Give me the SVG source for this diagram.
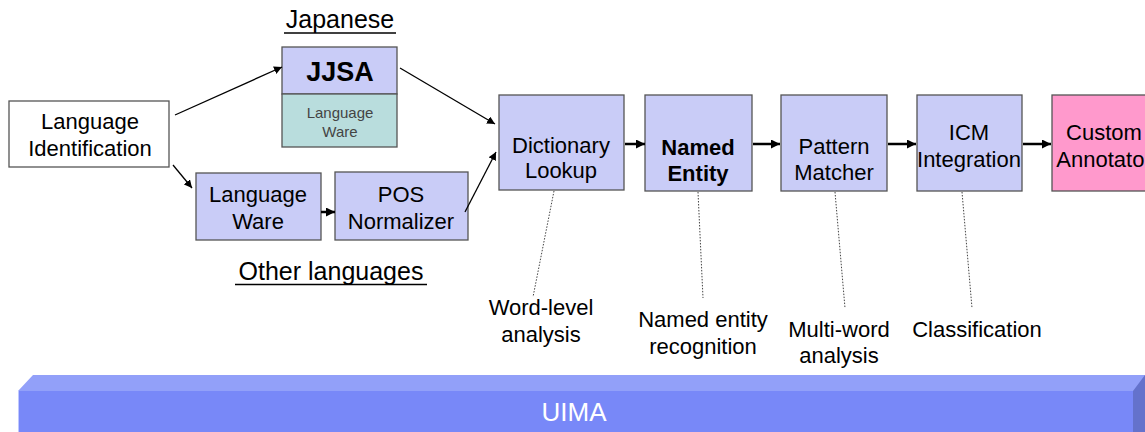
<svg xmlns="http://www.w3.org/2000/svg" width="1145" height="432" viewBox="0 0 1145 432">
<defs>
<style>
.box{fill:#C9CCF7;stroke:#555;stroke-width:1.3}
.t{font-family:"Liberation Sans",Arial,sans-serif;font-size:22px;fill:#000;text-anchor:middle}
.b{font-weight:bold}
.lbl{font-family:"Liberation Sans",Arial,sans-serif;font-size:22px;fill:#000;text-anchor:middle}
.thin{stroke:#000;stroke-width:1.3;fill:none;marker-end:url(#ah)}
.thick{stroke:#000;stroke-width:2.5;fill:none;marker-end:url(#ah2)}
.dot{stroke:#444;stroke-width:1;stroke-dasharray:1.5 1.5;fill:none}
</style>
<marker id="ah" viewBox="0 0 10 10" refX="10" refY="5" markerWidth="8" markerHeight="8" markerUnits="userSpaceOnUse" orient="auto"><path d="M0,0 L10,5 L0,10 z" fill="#000"/></marker>
<marker id="ah2" viewBox="0 0 10 10" refX="10" refY="5" markerWidth="9" markerHeight="9" markerUnits="userSpaceOnUse" orient="auto"><path d="M0,0 L10,5 L0,10 z" fill="#000"/></marker>
</defs>
<rect width="1145" height="432" fill="#fff"/>

<g id="header-japanese">
<text x="340" y="28" class="t" style="font-size:25px">Japanese</text>
<line x1="284" y1="33" x2="396" y2="33" stroke="#000" stroke-width="1.3"/>
</g>
<g id="header-other">
<text x="331" y="280" class="t" style="font-size:25px">Other languages</text>
<line x1="235" y1="284.5" x2="427" y2="284.5" stroke="#000" stroke-width="1.3"/>
</g>

<g id="lang-id">
<rect x="9" y="101" width="160" height="66" fill="#fff" stroke="#555" stroke-width="1.3"/>
<text x="90" y="129" class="t">Language</text>
<text x="90" y="156" class="t">Identification</text>
</g>

<g id="jjsa">
<rect x="282" y="47" width="115" height="47" class="box"/>
<rect x="282" y="94" width="115" height="53" fill="#B9DDDD" stroke="#555" stroke-width="1.3"/>
<text x="340" y="81" class="t b" style="font-size:27px">JJSA</text>
<text x="340" y="118" class="t" style="font-size:15px;fill:#444">Language</text>
<text x="340" y="137" class="t" style="font-size:15px;fill:#444">Ware</text>
</g>

<g id="languageware">
<rect x="196" y="173" width="125" height="67" class="box"/>
<text x="258" y="202" class="t">Language</text>
<text x="258" y="229" class="t">Ware</text>
</g>

<g id="pos-normalizer">
<rect x="335" y="172" width="133" height="68" class="box"/>
<text x="401" y="202" class="t">POS</text>
<text x="401" y="229" class="t">Normalizer</text>
</g>

<g id="dictionary-lookup">
<rect x="499" y="95" width="125" height="95" class="box"/>
<text x="561" y="153" class="t">Dictionary</text>
<text x="561" y="178" class="t">Lookup</text>
</g>

<g id="named-entity">
<rect x="645" y="95" width="107" height="96" class="box"/>
<text x="698" y="155" class="t b">Named</text>
<text x="698" y="181" class="t b">Entity</text>
</g>

<g id="pattern-matcher">
<rect x="781" y="95" width="106" height="96" class="box"/>
<text x="834" y="154" class="t">Pattern</text>
<text x="834" y="180" class="t">Matcher</text>
</g>

<g id="icm-integration">
<rect x="917" y="95" width="105" height="96" class="box"/>
<text x="969" y="140" class="t">ICM</text>
<text x="969" y="167" class="t">Integration</text>
</g>

<g id="custom-annotator">
<rect x="1052" y="95" width="106" height="96" fill="#FF99CC" stroke="#555" stroke-width="1.3"/>
<text x="1104" y="140" class="t">Custom</text>
<text x="1104" y="167" class="t">Annotator</text>
</g>

<g id="label-word-level">
<text x="541" y="315" class="lbl">Word-level</text>
<text x="541" y="342" class="lbl">analysis</text>
</g>
<g id="label-named-entity">
<text x="703" y="327" class="lbl">Named entity</text>
<text x="703" y="354" class="lbl">recognition</text>
</g>
<g id="label-multi-word">
<text x="839" y="337" class="lbl">Multi-word</text>
<text x="839" y="363" class="lbl">analysis</text>
</g>
<g id="label-classification">
<text x="977" y="337" class="lbl">Classification</text>
</g>

<g id="connectors">
<line x1="175" y1="115" x2="282" y2="67" class="thin"/>
<line x1="173" y1="165" x2="192" y2="188" class="thin"/>
<line x1="321" y1="212" x2="335" y2="212" class="thick"/>
<line x1="465" y1="212" x2="496" y2="152" class="thin"/>
<line x1="400" y1="68" x2="495" y2="124" class="thin"/>
<line x1="625" y1="144" x2="645" y2="144" class="thick"/>
<line x1="753" y1="144" x2="780" y2="144" class="thick"/>
<line x1="888" y1="144" x2="916" y2="144" class="thick"/>
<line x1="1023" y1="144" x2="1051" y2="144" class="thick"/>
<line x1="554" y1="191" x2="533" y2="297" class="dot"/>
<line x1="698" y1="192" x2="703" y2="298" class="dot"/>
<line x1="835" y1="192" x2="845" y2="308" class="dot"/>
<line x1="962" y1="192" x2="972" y2="308" class="dot"/>
</g>

<g id="uima">
<polygon points="33,375 1145,375 1145,391 18,391" fill="#92A0F9"/>
<rect x="18" y="391" width="1115" height="41" fill="#7888F8"/>
<polygon points="1133,391 1145,375 1145,432 1133,432" fill="#6472CC"/>
<line x1="18.5" y1="391" x2="18.5" y2="432" stroke="#C0C8FF" stroke-width="1"/>
<text x="574" y="421" class="t" style="font-size:26px;fill:#fff">UIMA</text>
</g>
</svg>
